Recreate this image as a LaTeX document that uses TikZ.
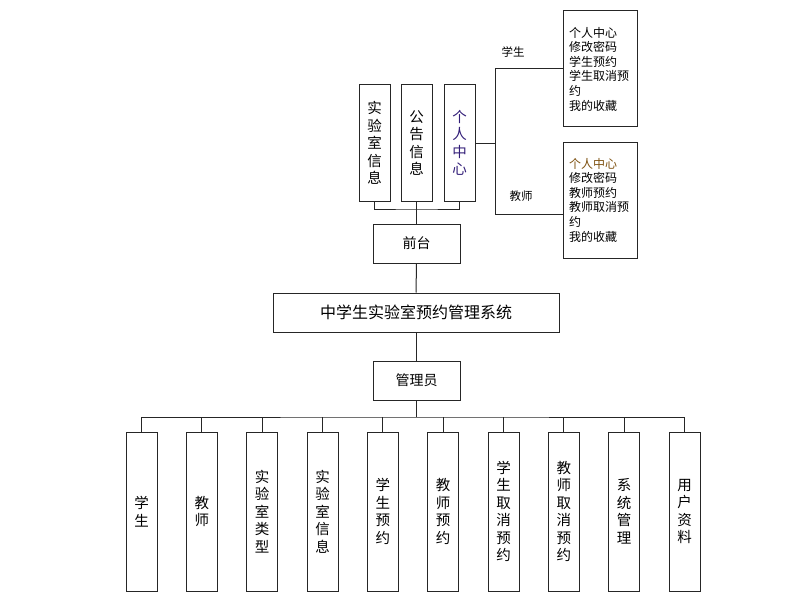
\documentclass[tikz,border=0pt]{standalone}
\usepackage{fontspec}
\usepackage{xcolor}
\usepackage{tikz}
\usetikzlibrary{positioning, calc}
\newfontfamily\cjk{Noto Sans CJK SC}
\definecolor{pcblue}{RGB}{50, 30, 120}
\definecolor{pcbrown}{RGB}{125, 80, 15}

\begin{document}
\begin{tikzpicture}[
    x=1pt, y=-1pt,
    every node/.style={font=\cjk},
    vbox/.style={draw=black!85, line width=1pt, minimum width=31pt, inner sep=0pt, align=center, font=\cjk\fontsize{14.5}{17.5}\selectfont},
    hbox/.style={draw=black!85, line width=1pt, minimum width=87pt, minimum height=39pt, inner sep=0pt, font=\cjk\fontsize{14}{17}\selectfont},
    menubox/.style={draw=black!85, line width=1pt, minimum height=116pt, text width=62pt, inner xsep=6pt, inner ysep=0pt, align=left, font=\cjk\fontsize{12}{14.6}\selectfont},
    tag/.style={inner sep=0pt, font=\cjk\fontsize{11.5}{14}\selectfont},
    link/.style={draw=black!85, line width=1pt}
]
    \useasboundingbox (0,0) rectangle (792,599);

    % front end
    \node[vbox, minimum height=116pt] (labinfo) at (374.5, 143) {实\\验\\室\\信\\息};
    \node[vbox, minimum height=116pt] (notice) at (416.5, 143) {公\\告\\信\\息};
    \node[vbox, minimum height=116pt, text=pcblue] (center) at (459.5, 143) {个\\人\\中\\心};
    \node[hbox] (front) at (416.5, 243.5) {前台};

    \coordinate (brk) at (416.5, 209);
    \draw[link] (labinfo.south) |- (brk) -| (center.south);
    \draw[link] (notice.south) -- (front.north);

    % personal center
    \node[menubox] (stumenu) at (600, 69) {个人中心\\修改密码\\学生预约\\学生取消预\\约\\我的收藏};
    \node[menubox] (teamenu) at (600, 200) {\textcolor{pcbrown}{个人中心}\\修改密码\\教师预约\\教师取消预\\约\\我的收藏};
    \coordinate (fork) at (495, 143);
    \coordinate (forkup) at (495, 69);
    \coordinate (forkdown) at (495, 214);
    \draw[link] (center.east) -- (fork);
    \draw[link] (stumenu.west) -- (forkup) -- (forkdown) -- (teamenu.west |- forkdown);
    \node[tag] (stutag) at (513, 52) {学生};
    \node[tag] (teatag) at (521, 196) {教师};

    % system
    \node[hbox, minimum width=286pt, font=\cjk\fontsize{16}{19}\selectfont] (sys) at (416, 312.5) {中学生实验室预约管理系统};
    \node[hbox] (admin) at (416.5, 380.5) {管理员};
    \draw[link] (front.south) -- (sys.north);
    \draw[link] (sys.south) -- (admin.south |- sys.south) -- (admin.north);

    % admin functions
    \node[vbox, minimum height=159pt] (a1) at (141.5, 511.5) {学\\生};
    \node[vbox, minimum height=159pt] (a2) at (201.8, 511.5) {教\\师};
    \node[vbox, minimum height=159pt] (a3) at (262.2, 511.5) {实\\验\\室\\类\\型};
    \node[vbox, minimum height=159pt] (a4) at (322.5, 511.5) {实\\验\\室\\信\\息};
    \node[vbox, minimum height=159pt] (a5) at (382.8, 511.5) {学\\生\\预\\约};
    \node[vbox, minimum height=159pt] (a6) at (443.2, 511.5) {教\\师\\预\\约};
    \node[vbox, minimum height=159pt] (a7) at (503.5, 511.5) {学\\生\\取\\消\\预\\约};
    \node[vbox, minimum height=159pt] (a8) at (563.8, 511.5) {教\\师\\取\\消\\预\\约};
    \node[vbox, minimum height=159pt] (a9) at (624.2, 511.5) {系\\统\\管\\理};
    \node[vbox, minimum height=159pt] (a10) at (684.5, 511.5) {用\\户\\资\\料};

    \coordinate (bus) at (416.5, 417);
    \draw[link] (admin.south) -- (bus);
    \draw[link] (a1.north) |- (bus) -| (a10.north);
    \draw[link] (a2.north) -- (a2.north |- bus);
    \draw[link] (a3.north) -- (a3.north |- bus);
    \draw[link] (a4.north) -- (a4.north |- bus);
    \draw[link] (a5.north) -- (a5.north |- bus);
    \draw[link] (a6.north) -- (a6.north |- bus);
    \draw[link] (a7.north) -- (a7.north |- bus);
    \draw[link] (a8.north) -- (a8.north |- bus);
    \draw[link] (a9.north) -- (a9.north |- bus);
\end{tikzpicture}
\end{document}
